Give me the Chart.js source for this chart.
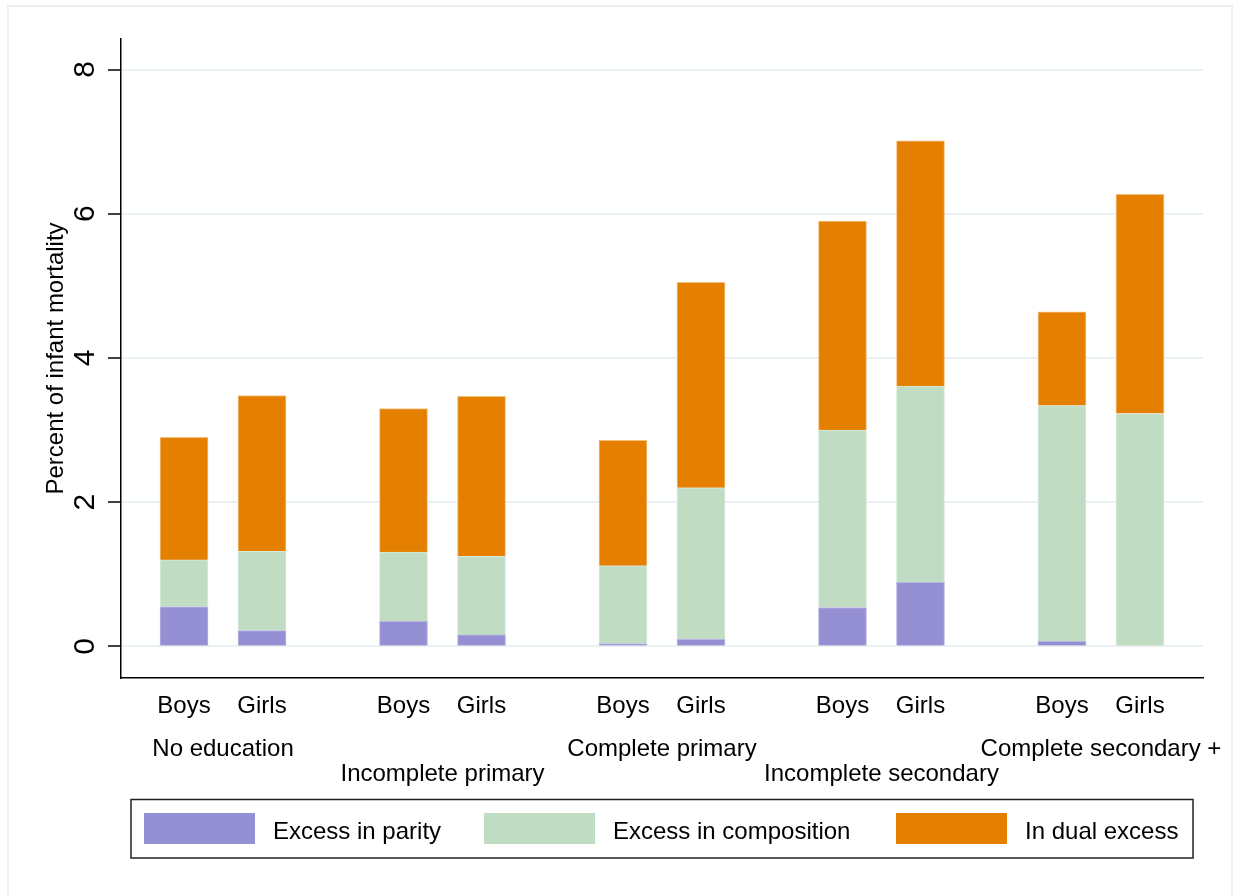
<!DOCTYPE html>
<html>
<head>
<meta charset="utf-8">
<title>Infant mortality excess</title>
<script src="https://cdn.jsdelivr.net/npm/chart.js@4/dist/chart.umd.min.js"></script>
<style>
  html, body { margin: 0; padding: 0; background: #fff; }
  canvas { display: block; }
</style>
</head>
<body>
<canvas id="chart" width="1235" height="896"></canvas>
<script>
// Datos (barras: Boys, Girls por cada grupo)
const groupLabels = ['No education', 'Incomplete primary', 'Complete primary', 'Incomplete secondary', 'Complete secondary +'];
const sexLabels = ['Boys', 'Girls'];
const excessParity = [0.55, 0.22, 0.35, 0.16, 0.04, 0.10, 0.54, 0.89, 0.07, 0.00];
const excessComposition = [0.65, 1.10, 0.96, 1.09, 1.08, 2.10, 2.46, 2.72, 3.27, 3.23];
const dualExcess = [1.70, 2.16, 1.99, 2.22, 1.74, 2.85, 2.90, 3.40, 1.30, 3.04];
const yTicks = [0, 2, 4, 6, 8];
const legendLabels = ['Excess in parity', 'Excess in composition', 'In dual excess'];

const FONT = "'Liberation Sans', Arial, sans-serif";
const COLORS = ['#958fd3', '#c0dcc3', '#e57f00'];
const BORDERS = ['#b9b5e4', '#d8eadb', '#f3bf80'];
const GROUP_STEP = 2.814;

function barX(i) {
  return Math.floor(i / 2) * GROUP_STEP + (i % 2);
}

function toPoints(values) {
  return values.map((v, i) => ({ x: barX(i), y: v }));
}

const seriesValues = [excessParity, excessComposition, dualExcess];

const labelsPlugin = {
  id: 'stataLabels',
  beforeDraw(chart) {
    const ctx = chart.ctx;
    ctx.save();
    ctx.fillStyle = '#fff';
    ctx.fillRect(0, 0, chart.width, chart.height);
    ctx.strokeStyle = '#e9eff2';
    ctx.lineWidth = 2;
    ctx.strokeRect(8, 6, 1224, 900);
    ctx.restore();
  },
  afterDraw(chart) {
    const ctx = chart.ctx;
    const xs = chart.scales.x;
    const ys = chart.scales.y;
    ctx.save();
    ctx.fillStyle = '#000';

    // etiquetas del eje y, rotadas
    ctx.font = '30px ' + FONT;
    ctx.textAlign = 'center';
    ctx.textBaseline = 'alphabetic';
    yTicks.forEach((v) => {
      ctx.save();
      ctx.translate(94, ys.getPixelForValue(v));
      ctx.rotate(-Math.PI / 2);
      ctx.fillText(String(v), 0, 0);
      ctx.restore();
    });

    // titulo del eje y
    ctx.font = '24px ' + FONT;
    ctx.save();
    ctx.translate(63, (chart.chartArea.top + chart.chartArea.bottom) / 2);
    ctx.rotate(-Math.PI / 2);
    ctx.fillText('Percent of infant mortality', 0, 0);
    ctx.restore();

    // Boys / Girls bajo cada barra
    excessParity.forEach((_, i) => {
      ctx.fillText(sexLabels[i % 2], xs.getPixelForValue(barX(i)), 713);
    });

    // grupos en dos filas alternadas
    groupLabels.forEach((label, g) => {
      const cx = xs.getPixelForValue(g * GROUP_STEP + 0.5);
      ctx.fillText(label, cx, g % 2 === 0 ? 756 : 781);
    });

    // leyenda
    ctx.strokeStyle = '#222';
    ctx.lineWidth = 1.5;
    ctx.strokeRect(131, 799.5, 1062, 58.5);
    const swatchX = [144, 484, 896];
    ctx.textAlign = 'left';
    legendLabels.forEach((label, k) => {
      ctx.fillStyle = COLORS[k];
      ctx.fillRect(swatchX[k], 813, 111, 31);
      ctx.fillStyle = '#000';
      ctx.fillText(label, swatchX[k] + 129, 839);
    });
    ctx.restore();
  }
};

new Chart(document.getElementById('chart'), {
  type: 'bar',
  data: {
    datasets: legendLabels.map((label, k) => ({
      label: label,
      data: toPoints(seriesValues[k]),
      backgroundColor: COLORS[k],
      borderColor: BORDERS[k],
      borderWidth: 1,
      barThickness: 48,
    }))
  },
  options: {
    responsive: false,
    animation: false,
    layout: { padding: { top: 39, right: 32, left: 0, bottom: 0 } },
    plugins: {
      legend: { display: false },
      tooltip: { enabled: false }
    },
    scales: {
      x: {
        type: 'linear',
        min: -0.808,
        max: 4 * GROUP_STEP + 1.808,
        offset: false,
        stacked: true,
        ticks: { display: false },
        grid: { display: false, offset: false },
        border: { display: true, color: '#000', width: 1.5 },
        afterFit: (s) => { s.height = 218; }
      },
      y: {
        min: -0.437,
        max: 8.423,
        stacked: true,
        afterBuildTicks: (s) => { s.ticks = yTicks.map((v) => ({ value: v })); },
        ticks: { display: false },
        grid: { color: '#eaf1f3', lineWidth: 2, tickColor: '#000', tickLength: 13, tickWidth: 1.5 },
        border: { display: true, color: '#000', width: 1.5 },
        afterFit: (s) => { s.width = 121; }
      }
    }
  },
  plugins: [labelsPlugin]
});
</script>
</body>
</html>
